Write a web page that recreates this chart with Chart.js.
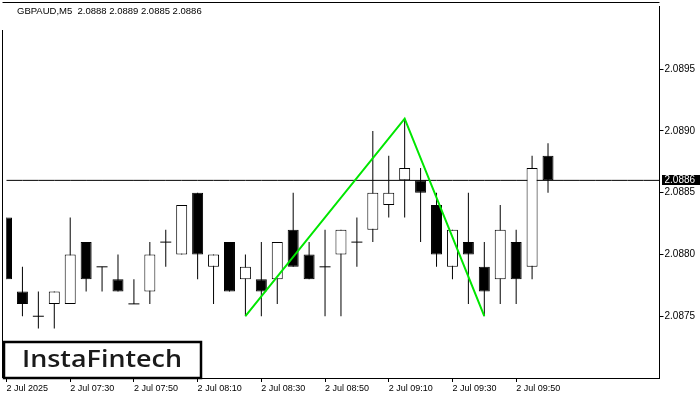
<!DOCTYPE html>
<html>
<head>
<meta charset="utf-8">
<script src="https://cdn.jsdelivr.net/npm/chart.js@4.4.1/dist/chart.umd.min.js"></script>
<style>
  html, body { margin: 0; padding: 0; background: #fff; }
  #wrap { width: 700px; height: 400px; }
</style>
</head>
<body>
<div id="wrap"><canvas id="myChart" width="700" height="400"></canvas></div>
<script>
  // GBPAUD M5 candles, 2 Jul 2025
  const times = [
    '07:10', '07:15', '07:20', '07:25', '07:30', '07:35', '07:40', '07:45', '07:50', '07:55',
    '08:00', '08:05', '08:10', '08:15', '08:20', '08:25', '08:30', '08:35', '08:40', '08:45',
    '08:50', '08:55', '09:00', '09:05', '09:10', '09:15', '09:20', '09:25', '09:30', '09:35',
    '09:40', '09:45', '09:50', '09:55', '10:00',
    '10:05', '10:10', '10:15', '10:20', '10:25', '10:30', '10:35'
  ];
  const opens = [
    2.0883, 2.0877, 2.0875, 2.0876, 2.0876, 2.0881, 2.0879, 2.0878, 2.0876, 2.0877,
    2.0881, 2.0880, 2.0885, 2.0879, 2.0881, 2.0878, 2.0878, 2.0878, 2.0882, 2.0880,
    2.0879, 2.0880, 2.0881, 2.0882, 2.0884, 2.0886, 2.0886, 2.0884, 2.0879, 2.0881,
    2.0879, 2.0878, 2.0881, 2.0879, 2.0888
  ];
  const highs = [
    2.0883, 2.0879, 2.0877, 2.0877, 2.0883, 2.0881, 2.0879, 2.0880, 2.0878, 2.0881,
    2.0882, 2.0884, 2.0885, 2.0880, 2.0881, 2.0880, 2.0881, 2.0881, 2.0885, 2.0881,
    2.0882, 2.0882, 2.0883, 2.0890, 2.0888, 2.0891, 2.0887, 2.0885, 2.0882, 2.0885,
    2.0881, 2.0884, 2.0882, 2.0888, 2.0889
  ];
  const lows = [
    2.0878, 2.0875, 2.0874, 2.0874, 2.0876, 2.0877, 2.0877, 2.0877, 2.0876, 2.0876,
    2.0879, 2.0880, 2.0878, 2.0876, 2.0877, 2.0875, 2.0875, 2.0876, 2.0879, 2.0878,
    2.0875, 2.0875, 2.0879, 2.0881, 2.0883, 2.0883, 2.0881, 2.0879, 2.0878, 2.0876,
    2.0875, 2.0876, 2.0876, 2.0878, 2.0885
  ];
  const closes = [
    2.0878, 2.0876, 2.0875, 2.0877, 2.0880, 2.0878, 2.0879, 2.0877, 2.0876, 2.0880,
    2.0881, 2.0884, 2.0880, 2.0880, 2.0877, 2.0879, 2.0877, 2.0881, 2.0879, 2.0878,
    2.0879, 2.0882, 2.0881, 2.0885, 2.0885, 2.0887, 2.0885, 2.0880, 2.0882, 2.0880,
    2.0877, 2.0882, 2.0878, 2.0887, 2.0886
  ];

  // double top pattern line
  const patternIdx = [15, 25, 30];
  const patternVal = [2.0875, 2.0891, 2.0875];

  const bidPrice = 2.0886;
  const yTicks = [2.0875, 2.0880, 2.0885, 2.0890, 2.0895];
  const xTickIdx = [0, 4, 8, 12, 16, 20, 24, 28, 32];
  const xTickText = ['2 Jul 2025', '2 Jul 07:30', '2 Jul 07:50', '2 Jul 08:10', '2 Jul 08:30',
    '2 Jul 08:50', '2 Jul 09:10', '2 Jul 09:30', '2 Jul 09:50'];
  const header = 'GBPAUD,M5  2.0888 2.0889 2.0885 2.0886';

  const bodies = opens.map((o, i) => o === closes[i] ? null : [Math.min(o, closes[i]), Math.max(o, closes[i])]);
  const bodyColors = opens.map((o, i) => closes[i] > o ? '#ffffff' : '#000000');
  const wicks = highs.map((h, i) => [lows[i], h]);
  const dojis = opens.map((o, i) => o === closes[i] ? o : null);
  const pattern = times.map(() => null);
  patternIdx.forEach((k, j) => { pattern[k] = patternVal[j]; });

  const noPad = (s) => { s.paddingLeft = 0; s.paddingRight = 0; s.paddingTop = 0; s.paddingBottom = 0; };

  const overlay = {
    id: 'overlay',
    afterDraw(chart) {
      const ctx = chart.ctx;
      const a = chart.chartArea;
      const y = chart.scales.y.getPixelForValue(bidPrice);
      ctx.save();
      // frame top + left
      ctx.strokeStyle = '#000';
      ctx.lineWidth = 1;
      ctx.beginPath();
      ctx.moveTo(2.5, 2.5); ctx.lineTo(a.right, 2.5);
      ctx.moveTo(2.5, 30); ctx.lineTo(2.5, a.bottom);
      ctx.stroke();
      // header
      ctx.fillStyle = '#000';
      ctx.font = '9.5px "Liberation Sans", Arial, sans-serif';
      ctx.textBaseline = 'middle';
      ctx.fillText(header, 17, 11.5);
      // bid price box
      ctx.fillRect(662, Math.round(y) - 5, 38, 10);
      ctx.fillStyle = '#fff';
      ctx.font = '10px "Liberation Sans", Arial, sans-serif';
      ctx.fillText(bidPrice.toFixed(4), 664.5, Math.round(y) + 0.5);
      // logo
      ctx.fillStyle = '#fff';
      ctx.fillRect(4, 342, 197, 36);
      ctx.strokeStyle = '#000';
      ctx.lineWidth = 2.5;
      ctx.strokeRect(4, 342, 197, 36);
      ctx.fillStyle = '#1a1a1a';
      ctx.font = '600 24px "Open Sans", sans-serif';
      ctx.textBaseline = 'alphabetic';
      const txt = 'InstaFintech';
      const w = ctx.measureText(txt).width;
      ctx.translate(22, 367);
      ctx.scale(160 / w, 1);
      ctx.fillText(txt, 0, 0);
      ctx.restore();
    }
  };

  const config = {
    type: 'bar',
    data: {
      labels: times,
      datasets: [
        {
          type: 'line',
          data: times.map(() => bidPrice),
          borderColor: '#000',
          borderWidth: 1,
          pointRadius: 0,
          order: 5,
        },
        {
          data: wicks,
          backgroundColor: '#000',
          barThickness: 1,
          inflateAmount: 0,
          grouped: false,
          order: 4,
        },
        {
          data: bodies,
          backgroundColor: bodyColors,
          borderColor: '#000',
          borderWidth: 1,
          borderSkipped: false,
          barThickness: 11,
          inflateAmount: 0,
          grouped: false,
          order: 3,
        },
        {
          type: 'line',
          data: dojis,
          showLine: false,
          pointStyle: 'line',
          pointRadius: 5.5,
          pointBorderWidth: 1,
          borderColor: '#000',
          order: 2,
        },
        {
          type: 'line',
          data: pattern,
          spanGaps: true,
          borderColor: '#00e600',
          borderWidth: 2,
          pointRadius: 0,
          order: 1,
        }
      ]
    },
    options: {
      responsive: false,
      animation: false,
      layout: { padding: { left: 3.5, top: 3, right: 0, bottom: 0 } },
      plugins: { legend: { display: false }, tooltip: { enabled: false } },
      scales: {
        x: {
          type: 'category',
          offset: false,
          afterFit: (s) => { s.height = 22; noPad(s); },
          grid: {
            offset: false,
            drawOnChartArea: false,
            drawTicks: true,
            tickLength: 4,
            tickColor: (c) => xTickIdx.includes(c.index) ? '#000' : 'rgba(0,0,0,0)',
          },
          border: { display: true, color: '#000', width: 1 },
          ticks: {
            autoSkip: false,
            maxRotation: 0,
            align: 'start',
            padding: 1,
            color: '#000',
            font: { family: '"Liberation Sans", Arial, sans-serif', size: 9 },
            callback: (v, i) => {
              const j = xTickIdx.indexOf(i);
              return j >= 0 ? xTickText[j] : '';
            }
          }
        },
        y: {
          position: 'right',
          min: 2.0870,
          max: 2.0900075,
          afterFit: (s) => { s.width = 40.5; noPad(s); },
          afterBuildTicks: (s) => { s.ticks = yTicks.map(v => ({ value: v })); },
          grid: {
            drawOnChartArea: false,
            drawTicks: true,
            tickLength: 4,
            tickColor: '#000',
          },
          border: { display: true, color: '#000', width: 1 },
          ticks: {
            padding: 1,
            color: '#000',
            font: { family: '"Liberation Sans", Arial, sans-serif', size: 10 },
            callback: (v) => Number(v).toFixed(4)
          }
        }
      }
    },
    plugins: [overlay]
  };

  const myChart = new Chart(document.getElementById('myChart'), config);
</script>
</body>
</html>
